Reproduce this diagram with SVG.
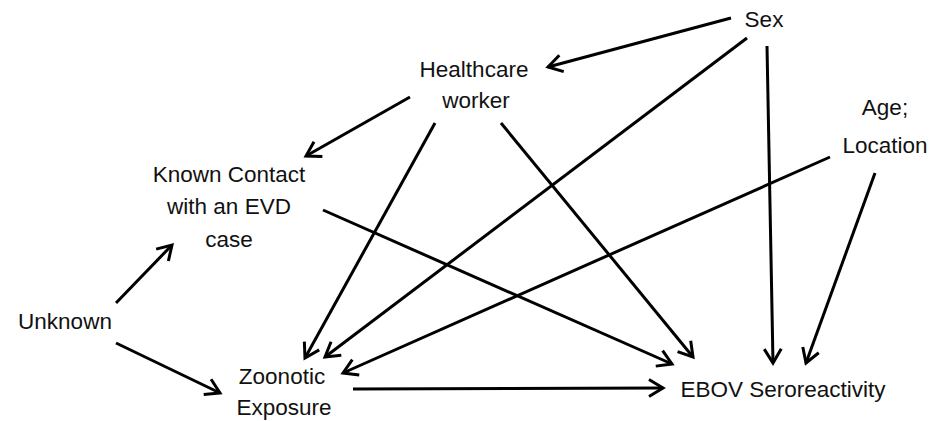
<svg xmlns="http://www.w3.org/2000/svg" width="938" height="421" viewBox="0 0 938 421">
<defs>
<style>
.lbl{font-family:"Liberation Sans",Arial,sans-serif;font-size:22.5px;fill:#111;text-anchor:middle}
.edge{stroke:#000;stroke-width:3;fill:none;marker-end:url(#ah)}
</style>
<marker id="ah" markerUnits="userSpaceOnUse" viewBox="-16 -10 18 20" refX="0" refY="0" markerWidth="18" markerHeight="20" orient="auto" overflow="visible">
<path d="M-14,-8.5 L0,0 L-14,8.5" fill="none" stroke="#000" stroke-width="3" stroke-linejoin="miter"/>
</marker>
</defs>
<rect width="938" height="421" fill="#fff"/>
<g id="connectors">
<line class="edge" x1="731" y1="18" x2="548" y2="67"/>
<line class="edge" x1="747" y1="38" x2="325" y2="357"/>
<line class="edge" x1="767" y1="46" x2="773" y2="363"/>
<line class="edge" x1="875" y1="173" x2="806" y2="363"/>
<line class="edge" x1="830" y1="157" x2="343" y2="373"/>
<line class="edge" x1="410" y1="97" x2="306" y2="156"/>
<line class="edge" x1="435" y1="123" x2="305" y2="358"/>
<line class="edge" x1="501" y1="123" x2="693" y2="357"/>
<line class="edge" x1="323" y1="210" x2="672" y2="364"/>
<line class="edge" x1="116" y1="303" x2="172" y2="245"/>
<line class="edge" x1="116" y1="343" x2="220" y2="393"/>
<line class="edge" x1="353" y1="389" x2="663" y2="388"/>
</g>
<g id="sex"><text class="lbl" x="764" y="27">Sex</text></g>
<g id="healthcare"><text class="lbl" x="474" y="77">Healthcare</text><text class="lbl" x="476" y="108">worker</text></g>
<g id="age"><text class="lbl" x="885" y="115">Age;</text><text class="lbl" x="885" y="153">Location</text></g>
<g id="contact"><text class="lbl" x="229" y="182">Known Contact</text><text class="lbl" x="229" y="214">with an EVD</text><text class="lbl" x="229" y="247">case</text></g>
<g id="unknown"><text class="lbl" x="65" y="329">Unknown</text></g>
<g id="zoonotic"><text class="lbl" x="282" y="384">Zoonotic</text><text class="lbl" x="284" y="415">Exposure</text></g>
<g id="ebov"><text class="lbl" x="783" y="397">EBOV Seroreactivity</text></g>
</svg>
